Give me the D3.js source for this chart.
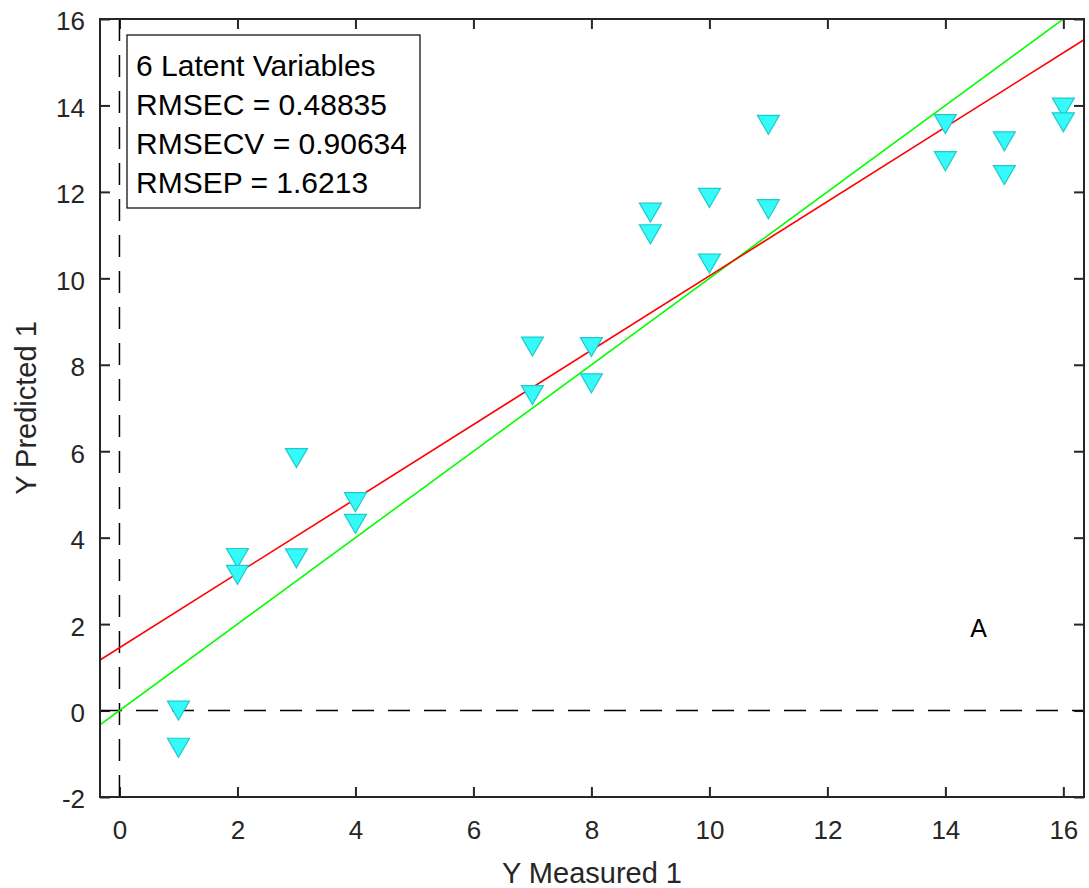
<!DOCTYPE html>
<html>
<head>
<meta charset="utf-8">
<script src="https://d3js.org/d3.v7.min.js"></script>
<style>
  body { margin: 0; background: #fff; }
  svg { font-family: "Liberation Sans", Arial, Helvetica, sans-serif; }
</style>
</head>
<body>
<div class="container"></div>
<script>
// measured vs predicted (two points per measured level)
const measured = [1, 1, 2, 2, 3, 3, 4, 4, 7, 7, 8, 8, 9, 9, 10, 10, 11, 11, 14, 14, 15, 15, 16, 16];
const predicted = [0.0, -0.86, 3.53, 3.14, 5.84, 3.52, 4.82, 4.32, 8.42, 7.3, 8.41, 7.57,
  11.52, 11.02, 11.86, 10.34, 13.55, 11.6, 13.57, 12.71, 13.17, 12.39, 13.95, 13.61];

// fitted line (red) and 1:1 line (green), end points
const fitX = [-0.33, 16.35];
const fitY = [1.17, 15.52];
const idealX = [-0.33, 16.35];
const idealY = [-0.33, 16.35];

const xTicks = [0, 2, 4, 6, 8, 10, 12, 14, 16];
const yTicks = [-2, 0, 2, 4, 6, 8, 10, 12, 14, 16];

const legendLines = ["6 Latent Variables", "RMSEC = 0.48835", "RMSECV = 0.90634", "RMSEP = 1.6213"];

const width = 1089;
const height = 888;
const margin = { top: 19, right: 5, bottom: 91, left: 100 };
const innerW = width - margin.left - margin.right;
const innerH = height - margin.top - margin.bottom;
const axisColor = "#262626";

const svg = d3.select(".container")
  .append("svg")
  .attr("width", width)
  .attr("height", height);

const g = svg.append("g")
  .attr("transform", "translate(" + margin.left + "," + margin.top + ")");

const xScale = d3.scaleLinear().domain([-0.33, 16.35]).range([0, innerW]);
const yScale = d3.scaleLinear().domain([-2, 16]).range([innerH, 0]);

g.append("clipPath")
  .attr("id", "plot-clip")
  .append("rect")
  .attr("width", innerW)
  .attr("height", innerH);

// Axes (ticks inside, mirrored on top/right)
const styleAxis = (sel) => {
  sel.select(".domain").remove();
  sel.selectAll(".tick line").attr("stroke", axisColor).attr("stroke-width", 2);
  sel.selectAll(".tick text").attr("fill", axisColor).style("font-size", "26px");
};

const plainNum = (d) => String(d);

g.append("g")
  .attr("transform", "translate(0," + innerH + ")")
  .call(d3.axisBottom(xScale).tickValues(xTicks).tickSize(-10).tickPadding(24).tickFormat(plainNum))
  .call(styleAxis);

g.append("g")
  .call(d3.axisTop(xScale).tickValues(xTicks).tickSize(-10).tickFormat(""))
  .call(styleAxis);

g.append("g")
  .call(d3.axisLeft(yScale).tickValues(yTicks).tickSize(-10).tickPadding(15).tickFormat(plainNum))
  .call(styleAxis)
  .selectAll(".tick text")
  .attr("dy", "0.42em");

g.append("g")
  .attr("transform", "translate(" + innerW + ",0)")
  .call(d3.axisRight(yScale).tickValues(yTicks).tickSize(-10).tickFormat(""))
  .call(styleAxis);

// Dashed zero lines
const plot = g.append("g").attr("clip-path", "url(#plot-clip)");

plot.append("line")
  .attr("x1", xScale(0)).attr("x2", xScale(0))
  .attr("y1", 0).attr("y2", innerH)
  .attr("stroke", "#000")
  .attr("stroke-width", 1.5)
  .attr("stroke-dasharray", "22,14");

plot.append("line")
  .attr("x1", 0).attr("x2", innerW)
  .attr("y1", yScale(0)).attr("y2", yScale(0))
  .attr("stroke", "#000")
  .attr("stroke-width", 1.5)
  .attr("stroke-dasharray", "22,14");

const line = d3.line().x((d) => xScale(d[0])).y((d) => yScale(d[1]));

plot.append("path")
  .datum(d3.zip(idealX, idealY))
  .attr("d", line)
  .attr("fill", "none")
  .attr("stroke", "#00ff00")
  .attr("stroke-width", 1.6);

plot.append("path")
  .datum(d3.zip(fitX, fitY))
  .attr("d", line)
  .attr("fill", "none")
  .attr("stroke", "#ff0000")
  .attr("stroke-width", 1.6);

// Down-pointing triangle markers
const tri = "M-11,-9.5L11,-9.5L0,9.5Z";
g.append("g")
  .selectAll("path")
  .data(d3.zip(measured, predicted))
  .enter()
  .append("path")
  .attr("d", tri)
  .attr("transform", (d) => "translate(" + xScale(d[0]) + "," + yScale(d[1]) + ")")
  .attr("fill", "#36fafa")
  .attr("stroke", "#1fcaca")
  .attr("stroke-width", 1.2);

// Frame
g.append("rect")
  .attr("width", innerW)
  .attr("height", innerH)
  .attr("fill", "none")
  .attr("stroke", axisColor)
  .attr("stroke-width", 2);

// Annotation
g.append("text")
  .attr("x", xScale(14.42))
  .attr("y", yScale(1.92))
  .attr("dy", "0.36em")
  .attr("fill", "#000")
  .style("font-size", "25px")
  .text("A");

// Legend box
const legend = svg.append("g").attr("transform", "translate(127,35)");
legend.append("rect")
  .attr("width", 293)
  .attr("height", 173)
  .attr("fill", "#fff")
  .attr("stroke", "#000")
  .attr("stroke-width", 1.2);

legend.selectAll("text")
  .data(legendLines)
  .enter()
  .append("text")
  .attr("x", 9)
  .attr("y", (d, i) => 41 + i * 39)
  .attr("fill", "#000")
  .style("font-size", "30px")
  .text((d) => d);

// Axis labels
svg.append("text")
  .attr("x", margin.left + innerW / 2)
  .attr("y", 883)
  .attr("text-anchor", "middle")
  .attr("fill", axisColor)
  .style("font-size", "29px")
  .text("Y Measured 1");

svg.append("text")
  .attr("transform", "translate(36," + (margin.top + innerH / 2) + ") rotate(-90)")
  .attr("text-anchor", "middle")
  .attr("fill", axisColor)
  .style("font-size", "29px")
  .text("Y Predicted 1");
</script>
</body>
</html>
